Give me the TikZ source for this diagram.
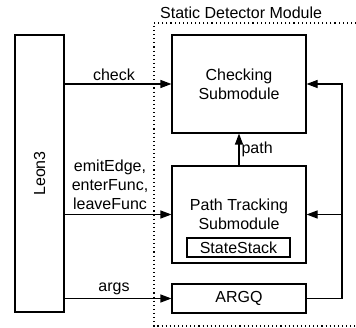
\documentclass[tikz,border=0pt]{standalone}
\usepackage{fontspec}
\setmainfont{Liberation Sans}
\usetikzlibrary{arrows.meta}
\tikzset{
  box/.style={draw, line width=1.1pt, align=center, inner sep=0pt,
    font=\fontsize{16}{19}\selectfont},
  lbl/.style={font=\fontsize{16}{19}\selectfont, inner sep=1pt},
  conn/.style={line width=1.1pt, -{Triangle[length=11pt,width=8pt]}},
  wire/.style={line width=1.1pt},
  frame/.style={line width=1.2pt, dash pattern=on 1.1pt off 3pt}
}
\begin{document}
\begin{tikzpicture}[x=1pt,y=-1pt]
\useasboundingbox (0,0) rectangle (356,328);

% module boundary (open to the right)
\draw[frame] (356,23) -- (154,23) -- (154,326) -- (356,326);
\node[lbl, anchor=west] (title) at (159,13) {Static Detector Module};

% host processor
\node[box, minimum width=49pt, minimum height=277pt] (leon) at (39.5,173.5) {};
\node[lbl, rotate=90] (leontxt) at (leon.center) {Leon3};

% submodules
\node[box, minimum width=134pt, minimum height=98pt] (chk) at (239,84)
  {Checking\\Submodule};
\node[box, minimum width=134pt, minimum height=97pt] (pt) at (239,214.5) {};
\node[lbl, align=center] (pttxt) at (239,214) {Path Tracking\\Submodule};
\node[box, minimum width=103pt, minimum height=19pt] (ss) at (238.5,247.5) {StateStack};
\node[box, minimum width=134pt, minimum height=29pt] (argq) at (239,298.5) {ARGQ};

% calls from the processor
\draw[conn] (leon.east |- chk.west) -- node[lbl, above, inner sep=3pt, xshift=-4pt] (lchk) {check} (chk.west);
\draw[conn] (leon.east |- pt.west) -- node[lbl, above, align=center, inner sep=4pt, xshift=-8pt] (lpt)
  {emitEdge,\\enterFunc,\\leaveFunc} (pt.west);
\draw[conn] (leon.east |- argq.west) -- node[lbl, above, inner sep=3pt, xshift=-4pt] (largs) {args} (argq.west);

% path hand-off
\draw[conn] (pt.north) -- node[lbl, right, xshift=1pt] (lpath) {path} (chk.south);

% argument queue feedback
\coordinate (fb) at (342,0);
\draw[wire] (argq.east) -- (fb |- argq.east) -- (fb |- pt.east);
\draw[conn] (fb |- pt.east) -- (fb |- chk.east) -- (chk.east);
\draw[conn] (fb |- pt.east) -- (pt.east);
\end{tikzpicture}
\end{document}
